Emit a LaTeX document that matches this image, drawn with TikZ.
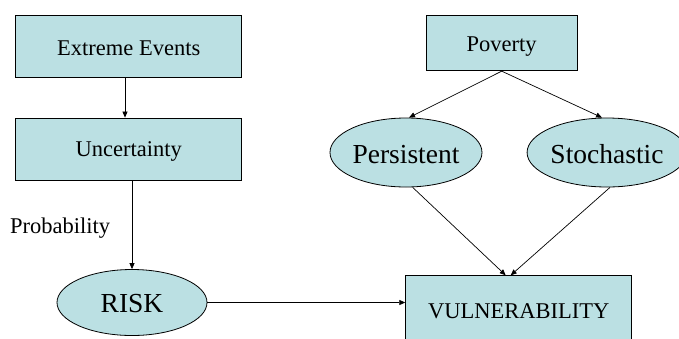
\documentclass[tikz,border=0pt]{standalone}
\usepackage{fontspec}
\setmainfont{Liberation Serif}
\usetikzlibrary{shapes.geometric,arrows.meta,calc}
\definecolor{boxfill}{RGB}{187,224,227}
\tikzset{
  boxnode/.style={draw=black, line width=0.8pt, fill=boxfill, rectangle, inner sep=0pt, text depth=5pt, text height=20pt, font=\fontsize{22.5}{26}\selectfont},
  ellnode/.style={draw=black, line width=0.8pt, fill=boxfill, ellipse, inner sep=0pt, text depth=6pt, text height=27pt, font=\fontsize{27.5}{32}\selectfont},
  conn/.style={line width=0.7pt, -{Triangle[length=6pt,width=5pt]}},
  lbl/.style={font=\fontsize{22.5}{26}\selectfont, inner sep=0pt}
}
\begin{document}
\begin{tikzpicture}[x=1pt,y=-1pt]
\useasboundingbox (0,0) rectangle (679,338);
\clip (0,0) rectangle (679,338);
\node[boxnode, minimum width=226pt, minimum height=62pt, text height=23pt] (ee) at (128.7,46) {Extreme Events};
\node[boxnode, minimum width=226pt, minimum height=62pt, text height=20.4pt] (unc) at (128.7,149) {Uncertainty};
\node[lbl, anchor=base west] (prob) at (10,233.3) {Probability};
\node[ellnode, minimum width=150pt, minimum height=66pt, text height=26pt] (risk) at (132,302.5) {RISK};
\node[boxnode, minimum width=151pt, minimum height=55.7pt, text height=22.6pt] (pov) at (501.7,42.9) {Poverty};
\node[ellnode, minimum width=152pt, minimum height=69pt] (pers) at (406,152.5) {Persistent};
\node[ellnode, minimum width=144pt, minimum height=69pt] (stoch) at (607,152.5) {Stochastic};
\node[boxnode, minimum width=226pt, minimum height=72pt, text height=18.2pt] (vuln) at (518.7,311.7) {VULNERABILITY};
\draw[conn] ([xshift=-3.7pt]ee.south) -- ([xshift=-3.7pt]unc.north);
\draw[conn] (unc.south -| risk.north) -- (risk.north);
\draw[conn] (risk.east) -- (risk.east -| vuln.west);
\draw[conn] (pov.south) -- ([xshift=3pt]pers.north);
\draw[conn] (pov.south) -- ([xshift=-5pt]stoch.north);
\draw[conn] ([xshift=6.7pt]pers.south) -- ([xshift=-13pt]vuln.north);
\draw[conn] ([xshift=3pt]stoch.south) -- ([xshift=-8pt]vuln.north);
\end{tikzpicture}
\end{document}
